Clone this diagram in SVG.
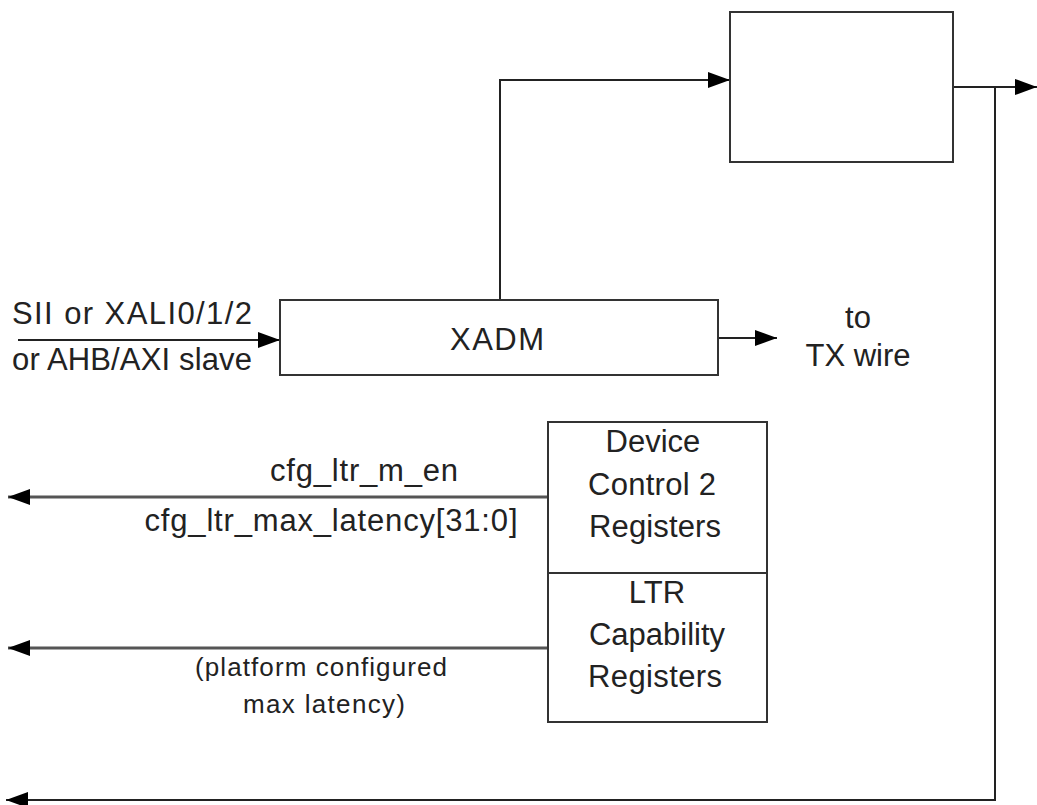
<svg xmlns="http://www.w3.org/2000/svg" width="1037" height="805" viewBox="0 0 1037 805">
<style>
.box{fill:#fff;stroke:#333;stroke-width:2}
.ln{fill:none;stroke:#222;stroke-width:2}
.gl{fill:none;stroke:#555;stroke-width:3}
text{font-family:"Liberation Sans",Arial,sans-serif;font-size:31px;fill:#222}
.c{text-anchor:middle}
.sm{font-size:26px}
</style>
<defs>
<marker id="ah" viewBox="0 0 22 16" refX="22" refY="8" markerWidth="22" markerHeight="16" markerUnits="userSpaceOnUse" orient="auto">
<path d="M0,0 L22,8 L0,16 Z" fill="#000"/>
</marker>
</defs>
<rect width="1037" height="805" fill="#fff"/>
<g id="connectors">
<path class="ln" d="M500,300 V80 H730" marker-end="url(#ah)"/>
<path class="ln" d="M18,340 H280" marker-end="url(#ah)"/>
<path class="ln" d="M718,338 H777" marker-end="url(#ah)"/>
<path class="ln" d="M953,87 H1037" marker-end="url(#ah)"/>
<path class="ln" d="M995,87 V800 H6" marker-end="url(#ah)"/>
<path class="gl" d="M548,497 H8" marker-end="url(#ah)"/>
<path class="gl" d="M548,648 H8" marker-end="url(#ah)"/>
</g>
<g id="top-box">
<rect class="box" x="730" y="12" width="223" height="150"/>
</g>
<g id="xadm">
<rect class="box" x="280" y="300" width="438" height="75"/>
<text class="c" x="497" y="350" textLength="94">XADM</text>
</g>
<g id="input-label">
<text x="12" y="324" textLength="240">SII or XALI0/1/2</text>
<text x="12" y="370" textLength="240">or AHB/AXI slave</text>
</g>
<g id="tx-label">
<text class="c" x="858" y="328">to</text>
<text class="c" x="858" y="366" textLength="105">TX wire</text>
</g>
<g id="dc2-regs">
<rect class="box" x="548" y="422" width="219" height="151"/>
<text class="c" x="653" y="452">Device</text>
<text class="c" x="652" y="495" textLength="128">Control 2</text>
<text class="c" x="655" y="537" textLength="132">Registers</text>
</g>
<g id="ltr-regs">
<rect class="box" x="548" y="573" width="219" height="149"/>
<text class="c" x="657" y="603">LTR</text>
<text class="c" x="657" y="645" textLength="136">Capability</text>
<text class="c" x="655" y="687" textLength="134">Registers</text>
</g>
<g id="signal-labels">
<text class="c" x="364" y="481" textLength="188">cfg_ltr_m_en</text>
<text class="c" x="331" y="531" textLength="373">cfg_ltr_max_latency[31:0]</text>
<text class="c sm" x="321" y="676" textLength="252">(platform configured</text>
<text class="c sm" x="324" y="713" textLength="162">max latency)</text>
</g>
</svg>
